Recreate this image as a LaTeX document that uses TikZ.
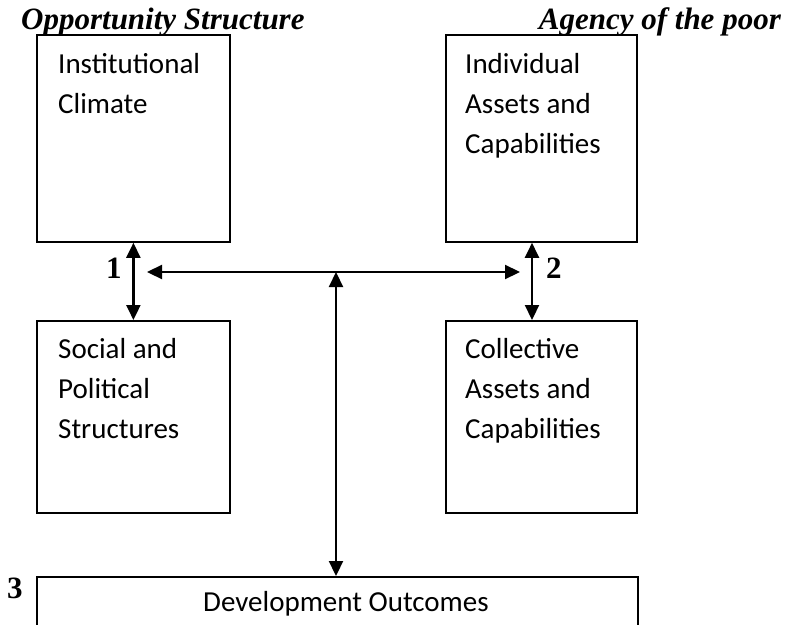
\documentclass[tikz,border=0pt]{standalone}
\usepackage{fontspec}
\setmainfont{Liberation Serif}
\newfontfamily\boxfont{Carlito}
\usetikzlibrary{arrows.meta}
\newcommand{\boxlines}[1]{\begin{tabular}[t]{@{}l@{}}#1\end{tabular}}
\begin{document}
\begin{tikzpicture}[x=1pt,y=-1pt,
  box/.style={draw, line width=1.8pt, inner sep=0pt, anchor=north west},
  lbl/.style={anchor=base west, inner sep=0pt, font=\boxfont\fontsize{29}{40}\selectfont},
  head/.style={inner sep=0pt, font=\fontsize{31}{31}\selectfont\bfseries\itshape},
  num/.style={anchor=base west, inner sep=0pt, font=\fontsize{31}{31}\selectfont\bfseries},
  arr/.style={line width=2.2pt, {Triangle[length=15pt,width=14pt]}-{Triangle[length=15pt,width=14pt]}},
]
\useasboundingbox (0,0) rectangle (787,624);
\clip (0,0) rectangle (787,624);
\fill[white] (0,0) rectangle (787,624);
% headers
\node[head, anchor=base west] (h1) at (21,29) {Opportunity Structure};
\node[head, anchor=base east] (h2) at (781,29) {Agency of the poor};
% boxes
\node[box, minimum width=193pt, minimum height=207pt] (A) at (36,34) {};
\node[box, minimum width=191pt, minimum height=207pt] (B) at (445,34) {};
\node[box, minimum width=193pt, minimum height=192pt] (C) at (36,320) {};
\node[box, minimum width=191pt, minimum height=192pt] (D) at (445,320) {};
\node[box, minimum width=601pt, minimum height=100pt] (E) at (36,576) {};
% box texts
\node[lbl] (tA) at (58,73) {\boxlines{Institutional\\Climate}};
\node[lbl] (tB) at (465,73) {\boxlines{Individual\\Assets and\\Capabilities}};
\node[lbl] (tC) at (58,358) {\boxlines{Social and\\Political\\Structures}};
\node[lbl] (tD) at (465,358) {\boxlines{Collective\\Assets and\\Capabilities}};
\node[lbl] (tE) at (203,611) {Development Outcomes};
% numbers
\node[num] (n1) at (106,278) {1};
\node[num] (n2) at (546,278) {2};
\node[num] (n3) at (7,598) {3};
% connectors
\coordinate (b2) at (532,0);
\coordinate (hl) at (147,272);
\coordinate (hr) at (520,272);
\coordinate (hm) at (336,272);
\draw[arr] (A.south) -- (C.north);
\draw[arr] (B.south -| b2) -- (D.north -| b2);
\draw[arr] (hl) -- (hr);
\draw[arr] (hm) -- (E.north -| hm);
\end{tikzpicture}
\end{document}
